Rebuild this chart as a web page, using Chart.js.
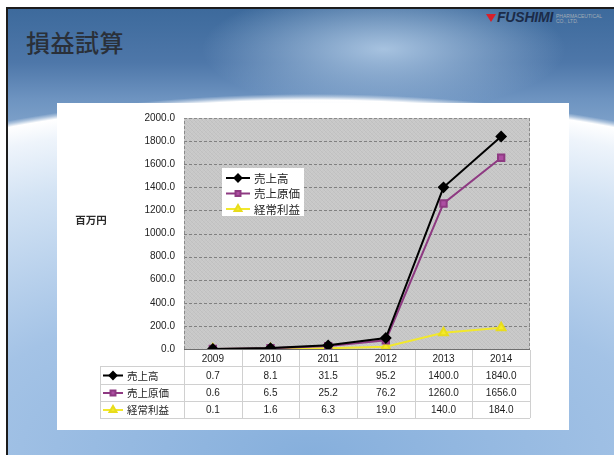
<!DOCTYPE html>
<html lang="ja">
<head>
<meta charset="utf-8">
<title>損益試算</title>
<script src="https://cdn.jsdelivr.net/npm/chart.js@4"></script>
<style>
  html, body { margin: 0; padding: 0; background: #fff; }
  body { width: 614px; height: 461px; position: relative; overflow: hidden; }
  .slide {
    position: absolute; left: 6px; top: 7px; width: 608px; height: 448px;
    box-sizing: border-box; border-top: 2px solid #1c1c1c; border-left: 2px solid #1c1c1c;
    background:
      radial-gradient(ellipse 150% 92% at 50% 100%, #86afdc 0%, #a4c3e6 40%, #d3e3f4 70%, #eef4fb 82%, #ffffff 86.5%, rgba(255,255,255,0.4) 87.3%, rgba(255,255,255,0) 88%),
      radial-gradient(ellipse 30% 14% at 62% 9%, rgba(190,214,238,0.8), rgba(190,214,238,0) 100%),
      linear-gradient(180deg, #3d6a9c 0%, #4e77a9 12%, #6d93c0 20%, #88aad0 30%, #88aad0 100%);
  }
  .title {
    position: absolute; left: 26px; top: 24px; margin: 0;
    font: 500 24px "Noto Sans CJK JP", sans-serif; color: #2a3039; letter-spacing: 0.5px;
  }
  .logo { position: absolute; left: 486px; top: 11px; height: 14px; }
  .logo .tri {
    position: absolute; left: 0; top: 3px; width: 0; height: 0;
    border-left: 5px solid transparent; border-right: 5px solid transparent; border-top: 8px solid #d8202a;
  }
  .logo .name {
    position: absolute; left: 11px; top: -2px; white-space: nowrap;
    font: italic 900 14px "Liberation Sans", Arial, sans-serif; color: #1c2b48; letter-spacing: -0.2px;
  }
  .logo .sub {
    position: absolute; left: 70px; top: 3px; white-space: nowrap;
    font: 5px "Liberation Sans", Arial, sans-serif; color: #a3acb6; line-height: 5px;
  }
  .panel { position: absolute; left: 57px; top: 103px; width: 512px; height: 327px; background: #fff; }
</style>
</head>
<body>
<div class="slide"></div>
<h1 class="title">損益試算</h1>
<div class="logo"><span class="tri"></span><span class="name">FUSHIMI</span><span class="sub">PHARMACEUTICAL<br>CO., LTD.</span></div>
<div class="panel"><canvas id="chart" width="512" height="327"></canvas></div>
<script>
const years = ['2009', '2010', '2011', '2012', '2013', '2014']
const seriesNames = ['売上高', '売上原価', '経常利益']
const sales = [0.7, 8.1, 31.5, 95.2, 1400.0, 1840.0]
const costOfSales = [0.6, 6.5, 25.2, 76.2, 1260.0, 1656.0]
const ordinaryProfit = [0.1, 1.6, 6.3, 19.0, 140.0, 184.0]
const yTicks = [0, 200, 400, 600, 800, 1000, 1200, 1400, 1600, 1800, 2000]
const unitLabel = '百万円'

const NUM_FONT = '"Liberation Sans", Arial, sans-serif'
const JP_FONT = '"Noto Sans CJK JP", sans-serif'

// faint cross-hatch used as the plot area fill
function hatchPattern(ctx) {
  const c = document.createElement('canvas')
  c.width = 4
  c.height = 4
  const g = c.getContext('2d')
  g.fillStyle = '#c8c8c8'
  g.fillRect(0, 0, 4, 4)
  g.fillStyle = '#c0c0c0'
  for (let i = 0; i < 4; i++) g.fillRect(i, i, 1, 1)
  g.fillStyle = '#cccccc'
  for (let i = 0; i < 4; i++) g.fillRect(3 - i, i, 1, 1)
  return ctx.createPattern(c, 'repeat')
}

const plotBackground = {
  id: 'plotBackground',
  beforeDatasetsDraw(chart) {
    const { ctx, chartArea: a, scales } = chart
    ctx.save()
    ctx.fillStyle = hatchPattern(ctx)
    ctx.fillRect(a.left, a.top, a.right - a.left, a.bottom - a.top)

    // dashed horizontal gridlines from the y scale
    ctx.strokeStyle = '#808080'
    ctx.lineWidth = 1
    ctx.setLineDash([3, 2])
    yTicks.forEach((v) => {
      if (v === 0) return
      const y = Math.round(scales.y.getPixelForValue(v)) + 0.5
      ctx.beginPath()
      ctx.moveTo(a.left, y)
      ctx.lineTo(a.right, y)
      ctx.stroke()
    })
    ctx.strokeStyle = '#8a8a8a'
    ctx.beginPath()
    ctx.moveTo(a.left + 0.5, a.bottom)
    ctx.lineTo(a.left + 0.5, a.top + 0.5)
    ctx.lineTo(a.right - 0.5, a.top + 0.5)
    ctx.lineTo(a.right - 0.5, a.bottom)
    ctx.stroke()
    ctx.setLineDash([])
    ctx.strokeStyle = '#6e6e6e'
    ctx.beginPath()
    ctx.moveTo(a.left, a.bottom + 0.5)
    ctx.lineTo(a.right, a.bottom + 0.5)
    ctx.stroke()
    ctx.restore()
  },
}

function drawKey(ctx, ds, x, y, len) {
  ctx.save()
  ctx.strokeStyle = ds.borderColor
  ctx.lineWidth = 2
  ctx.beginPath()
  ctx.moveTo(x, y)
  ctx.lineTo(x + len, y)
  ctx.stroke()
  ctx.fillStyle = ds.pointBackgroundColor
  ctx.strokeStyle = ds.pointBorderColor
  Chart.helpers.drawPoint(ctx, {
    pointStyle: ds.pointStyle,
    radius: ds.pointRadius - 1,
    borderWidth: 1,
    rotation: 0,
  }, x + len / 2, y)
  ctx.restore()
}

const legendAndTable = {
  id: 'legendAndTable',
  afterDraw(chart) {
    const { ctx, chartArea: a, scales } = chart
    const sets = chart.data.datasets

    // legend box inside the plot
    ctx.save()
    ctx.fillStyle = '#ffffff'
    ctx.fillRect(165, 65, 82, 48)
    ctx.font = `11.5px ${JP_FONT}`
    ctx.textBaseline = 'middle'
    sets.forEach((ds, i) => {
      const y = 75 + i * 15.5
      drawKey(ctx, ds, 169, y, 24)
      ctx.fillStyle = '#1e1e1e'
      ctx.fillText(ds.label, 197, y + 0.5)
    })

    // y axis unit
    ctx.font = `bold 10.5px ${JP_FONT}`
    ctx.textAlign = 'center'
    ctx.fillStyle = '#2a2a2a'
    ctx.fillText(unitLabel, 34, 117)

    // data table under the axis
    const colW = (a.right - a.left) / years.length
    const tableLeft = 43
    const rowLines = [263, 281, 298, 315]
    ctx.strokeStyle = '#d0d0d0'
    ctx.lineWidth = 1
    ctx.beginPath()
    for (let k = 0; k <= years.length; k++) {
      const x = Math.round(a.left + k * colW) + 0.5
      ctx.moveTo(x, a.bottom + 1)
      ctx.lineTo(x, rowLines[rowLines.length - 1])
    }
    ctx.moveTo(tableLeft + 0.5, rowLines[0])
    ctx.lineTo(tableLeft + 0.5, rowLines[rowLines.length - 1])
    rowLines.forEach((y) => {
      ctx.moveTo(tableLeft, y + 0.5)
      ctx.lineTo(a.right, y + 0.5)
    })
    ctx.stroke()

    sets.forEach((ds, i) => {
      const y = (rowLines[i] + rowLines[i + 1]) / 2 + 0.5
      drawKey(ctx, ds, 46, y, 20)
      ctx.textAlign = 'left'
      ctx.fillStyle = '#1e1e1e'
      ctx.font = `10.5px ${JP_FONT}`
      ctx.fillText(ds.label, 70, y + 0.5)
      ctx.textAlign = 'center'
      ctx.font = `10px ${NUM_FONT}`
      ds.data.forEach((v, j) => {
        ctx.fillText(v.toFixed(1), scales.x.getPixelForValue(j), y + 0.5)
      })
    })
    ctx.restore()
  },
}

const ctx = document.getElementById('chart')
new Chart(ctx, {
  type: 'line',
  data: {
    labels: years,
    datasets: [
      {
        label: seriesNames[0],
        data: sales,
        borderColor: '#000000',
        borderWidth: 2,
        pointStyle: 'rectRot',
        pointRadius: 4.5,
        pointBackgroundColor: '#000000',
        pointBorderColor: '#000000',
      },
      {
        label: seriesNames[1],
        data: costOfSales,
        borderColor: '#8e3a82',
        borderWidth: 2,
        pointStyle: 'rect',
        pointRadius: 4.5,
        pointBackgroundColor: '#ad4ea2',
        pointBorderColor: '#8e3a82',
      },
      {
        label: seriesNames[2],
        data: ordinaryProfit,
        borderColor: '#f2e82c',
        borderWidth: 2,
        pointStyle: 'triangle',
        pointRadius: 5,
        pointBackgroundColor: '#f4ea2a',
        pointBorderColor: '#e8dc1c',
      },
    ],
  },
  options: {
    responsive: false,
    animation: false,
    events: [],
    layout: { padding: { top: 15, right: 39, left: 0, bottom: 0 } },
    elements: { line: { tension: 0 } },
    plugins: {
      legend: { display: false },
      tooltip: { enabled: false },
    },
    scales: {
      x: {
        offset: true,
        grid: { display: false, drawTicks: false },
        border: { display: false },
        ticks: { color: '#222', font: { family: NUM_FONT, size: 10 }, padding: 4, maxRotation: 0 },
        afterFit: (scale) => { scale.height = 81 },
      },
      y: {
        min: 0,
        max: 2000,
        grid: { display: false, drawTicks: false },
        border: { display: false },
        afterBuildTicks: (scale) => { scale.ticks = yTicks.map((v) => ({ value: v })) },
        ticks: {
          color: '#222',
          font: { family: NUM_FONT, size: 10 },
          padding: 9,
          callback: (v) => Number(v).toFixed(1),
        },
        afterFit: (scale) => { scale.width = 127 },
      },
    },
  },
  plugins: [plotBackground, legendAndTable],
})
</script>
</body>
</html>
